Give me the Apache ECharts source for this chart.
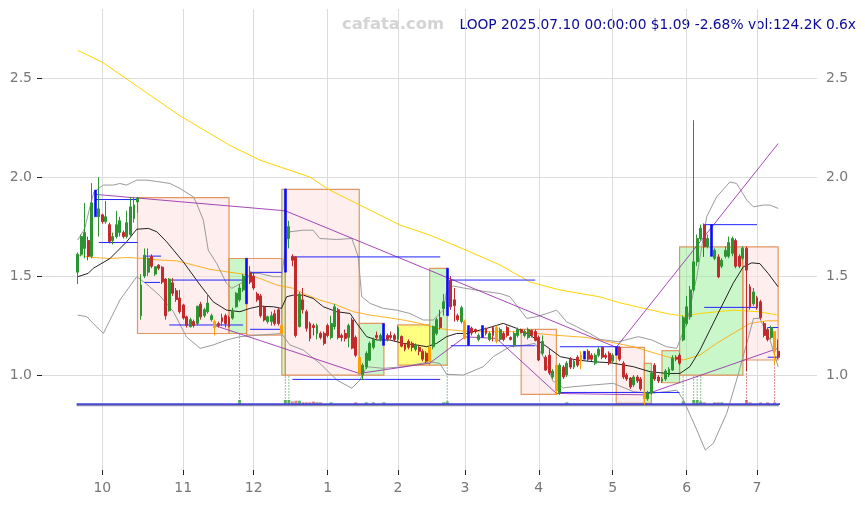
<!DOCTYPE html>
<html><head><meta charset="utf-8">
<script src="https://cdn.jsdelivr.net/npm/echarts@6/dist/echarts.min.js"></script>
<style>html,body{margin:0;padding:0;background:#fff}#c{width:865px;height:505px}</style>
</head><body><div id="c"></div>
<script>
// ---------- categories: trading days ----------
const holidays = ['2024-11-28','2024-12-25','2025-01-01','2025-01-09','2025-01-20','2025-02-17','2025-04-18','2025-05-26','2025-06-19','2025-07-04'];
const firstDay = '2024-09-20', lastDay = '2025-07-10';
const dates = [];
(function(){
  let d = Date.parse(firstDay + 'T00:00:00Z'); const e = Date.parse(lastDay + 'T00:00:00Z');
  while (d <= e) { const dt = new Date(d); const wd = dt.getUTCDay(); const s = dt.toISOString().slice(0,10);
    if (wd !== 0 && wd !== 6 && holidays.indexOf(s) < 0) dates.push(s); d += 86400000; }
})();

// ---------- OHLC: [open, close, low, high] ----------
const ohlc = [
[1.52,1.61,1.46,1.62],[1.61,1.70,1.60,1.71],[1.64,1.72,1.59,1.87],[1.68,1.60,1.58,1.70],[1.60,1.87,1.59,1.97],
[1.80,1.935,1.80,1.935],[1.80,1.84,1.70,2.00],[1.81,1.775,1.765,1.815],[1.775,1.80,1.765,1.88],[1.76,1.675,1.665,1.77],
[1.68,1.70,1.66,1.72],[1.70,1.76,1.69,1.83],[1.72,1.78,1.70,1.80],[1.72,1.70,1.69,1.73],[1.70,1.77,1.69,1.83],
[1.71,1.85,1.70,1.90],[1.79,1.86,1.77,1.90],[1.875,1.895,1.82,1.90],[1.30,1.455,1.28,1.51],[1.50,1.606,1.49,1.64],
[1.52,1.59,1.50,1.64],[1.60,1.55,1.54,1.61],[1.51,1.547,1.50,1.55],[1.555,1.54,1.53,1.56],[1.545,1.47,1.46,1.55],
[1.485,1.30,1.28,1.49],[1.325,1.485,1.32,1.49],[1.466,1.413,1.40,1.49],[1.426,1.382,1.37,1.44],[1.389,1.32,1.31,1.43],
[1.354,1.288,1.28,1.36],[1.294,1.25,1.24,1.30],[1.244,1.28,1.24,1.29],[1.27,1.25,1.24,1.28],[1.261,1.348,1.25,1.35],
[1.358,1.294,1.28,1.37],[1.30,1.33,1.29,1.34],[1.32,1.364,1.31,1.41],[1.28,1.30,1.27,1.31],[1.27,1.24,1.20,1.28],
[1.26,1.25,1.24,1.27],[1.29,1.27,1.25,1.31],[1.30,1.26,1.24,1.31],[1.29,1.245,1.24,1.30],[1.288,1.328,1.28,1.34],
[1.345,1.413,1.34,1.42],[1.38,1.44,1.37,1.46],[1.43,1.50,1.42,1.51],[1.36,1.59,1.36,1.59],[1.52,1.47,1.46,1.55],
[1.50,1.44,1.43,1.52],[1.41,1.38,1.37,1.42],[1.40,1.30,1.29,1.41],[1.345,1.278,1.27,1.35],[1.27,1.295,1.26,1.30],
[1.27,1.30,1.25,1.32],[1.31,1.26,1.25,1.33],[1.33,1.26,1.25,1.34],[1.25,1.21,1.20,1.26],[1.52,1.94,1.52,1.94],
[1.69,1.75,1.64,1.78],[1.60,1.58,1.55,1.61],[1.597,1.20,1.19,1.60],[1.245,1.41,1.24,1.42],[1.38,1.33,1.31,1.44],
[1.32,1.236,1.22,1.33],[1.26,1.185,1.17,1.27],[1.25,1.24,1.20,1.26],[1.21,1.25,1.18,1.26],[1.21,1.19,1.18,1.22],
[1.21,1.16,1.15,1.22],[1.25,1.20,1.19,1.26],[1.19,1.26,1.18,1.30],[1.244,1.345,1.23,1.36],[1.33,1.19,1.18,1.34],
[1.20,1.19,1.17,1.21],[1.21,1.185,1.17,1.23],[1.19,1.25,1.14,1.26],[1.278,1.136,1.13,1.29],[1.19,1.10,1.09,1.20],
[1.09,1.01,1.00,1.10],[1.00,1.05,0.975,1.06],[1.04,1.11,1.03,1.12],[1.075,1.16,1.07,1.17],[1.14,1.18,1.13,1.19],
[1.20,1.19,1.18,1.22],[1.18,1.20,1.17,1.21],[1.15,1.26,1.15,1.26],[1.20,1.18,1.17,1.21],[1.20,1.19,1.18,1.22],
[1.20,1.18,1.17,1.21],[1.18,1.24,1.17,1.25],[1.195,1.146,1.14,1.20],[1.155,1.13,1.12,1.16],[1.17,1.14,1.13,1.18],
[1.16,1.14,1.12,1.17],[1.13,1.15,1.12,1.16],[1.14,1.12,1.10,1.15],[1.12,1.08,1.07,1.13],[1.11,1.07,1.06,1.12],
[1.07,1.14,1.06,1.15],[1.143,1.245,1.13,1.25],[1.21,1.28,1.20,1.29],[1.29,1.24,1.23,1.33],[1.336,1.37,1.30,1.41],
[1.30,1.54,1.30,1.54],[1.48,1.345,1.33,1.50],[1.38,1.35,1.27,1.44],[1.30,1.28,1.27,1.31],[1.27,1.34,1.26,1.35],
[1.27,1.185,1.18,1.28],[1.15,1.25,1.15,1.25],[1.237,1.212,1.20,1.245],[1.23,1.22,1.21,1.235],[1.18,1.20,1.17,1.21],
[1.19,1.25,1.19,1.25],[1.235,1.21,1.20,1.24],[1.18,1.21,1.17,1.22],[1.24,1.20,1.17,1.245],[1.24,1.17,1.16,1.25],
[1.18,1.23,1.17,1.24],[1.21,1.18,1.17,1.22],[1.24,1.20,1.19,1.25],[1.19,1.18,1.175,1.195],[1.15,1.21,1.14,1.22],
[1.20,1.23,1.19,1.24],[1.23,1.215,1.21,1.235],[1.20,1.22,1.19,1.23],[1.19,1.23,1.18,1.24],[1.225,1.20,1.19,1.23],
[1.22,1.175,1.17,1.23],[1.19,1.076,1.07,1.20],[1.11,1.17,1.10,1.20],[1.09,1.025,1.02,1.10],[1.10,1.01,1.00,1.13],
[0.99,1.02,0.98,1.03],[1.05,0.92,0.90,1.05],[0.91,1.05,0.90,1.06],[1.04,0.99,0.98,1.05],[1.00,1.06,0.99,1.07],
[1.08,1.04,1.03,1.09],[1.04,1.07,1.03,1.08],[1.09,1.05,1.04,1.10],[1.10,1.07,1.03,1.12],[1.08,1.12,1.08,1.12],
[1.12,1.08,1.07,1.13],[1.10,1.08,1.07,1.11],[1.06,1.10,1.05,1.11],[1.10,1.13,1.09,1.14],[1.14,1.09,1.08,1.145],
[1.10,1.09,1.08,1.11],[1.11,1.06,1.05,1.12],[1.07,1.10,1.06,1.11],[1.10,1.14,1.10,1.14],[1.14,1.08,1.07,1.145],
[1.06,0.99,0.98,1.07],[1.00,0.98,0.97,1.01],[0.985,0.94,0.93,0.99],[0.95,0.99,0.94,1.00],[0.99,0.97,0.96,1.00],
[0.98,0.93,0.92,0.99],[0.91,0.88,0.85,0.92],[0.88,0.91,0.87,0.92],[0.91,1.01,0.90,1.02],[1.05,0.98,0.97,1.06],
[0.99,0.97,0.96,1.00],[0.97,0.98,0.96,0.99],[0.98,1.02,0.97,1.03],[1.00,1.03,0.99,1.04],[1.025,1.086,1.02,1.10],
[1.09,1.08,1.07,1.10],[1.10,1.06,1.05,1.11],[1.177,1.29,1.17,1.30],[1.26,1.345,1.25,1.40],[1.294,1.43,1.28,1.45],
[1.43,1.572,1.42,2.288],[1.572,1.69,1.55,1.71],[1.69,1.742,1.68,1.76],[1.758,1.648,1.597,1.766],[1.648,1.69,1.64,1.71],
[1.60,1.76,1.60,1.76],[1.59,1.63,1.58,1.64],[1.597,1.496,1.49,1.61],[1.55,1.58,1.54,1.59],[1.60,1.63,1.59,1.65],
[1.60,1.67,1.59,1.70],[1.615,1.69,1.60,1.70],[1.68,1.55,1.54,1.69],[1.60,1.55,1.54,1.61],[1.59,1.64,1.58,1.65],
[1.64,1.53,1.02,1.65],[1.446,1.345,1.33,1.46],[1.36,1.42,1.35,1.44],[1.39,1.34,1.33,1.40],[1.37,1.29,1.28,1.38],
[1.26,1.20,1.19,1.27],[1.23,1.18,1.17,1.24],[1.19,1.24,1.18,1.25],[1.22,1.12,1.05,1.22],[1.12,1.09,1.08,1.18]
];
const blueIdx = [5,48,59,87,105,111,115,144,153,180];
const orangeIdx = [39,58,80,100,110,119,136,143,161,198];

// ---------- indicator lines: [tradingDayIndex, price] ----------
const maBlack = [[0,1.497],[3,1.514],[4.4,1.539],[9.2,1.589],[13.9,1.673],[16.8,1.737],[20.1,1.741],[22.5,1.724],[25.3,1.673],[30,1.572],[34.8,1.455],[38.5,1.37],[42.3,1.328],[46.1,1.32],[49,1.337],[51.8,1.348],[55.6,1.345],[57.9,1.337],[59.4,1.396],[61.3,1.404],[64.1,1.404],[66.9,1.387],[69.8,1.345],[73.6,1.32],[77.4,1.311],[79.3,1.261],[82.1,1.194],[85,1.177],[88.7,1.177],[92.5,1.16],[96.3,1.152],[99.2,1.143],[102,1.16],[104.8,1.194],[107.7,1.21],[110.5,1.21],[116.2,1.236],[120.9,1.261],[124.7,1.236],[128.5,1.202],[133.3,1.143],[137.1,1.093],[141.8,1.076],[146.6,1.067],[151.4,1.062],[157.9,1.042],[162.6,1.017],[167.3,1.008],[171.1,1.008],[173.9,1.042],[176.8,1.126],[179.6,1.227],[182.4,1.328],[186.2,1.463],[189.1,1.547],[191.5,1.567],[193.8,1.563],[196.2,1.513],[199,1.446]];
const bbUpper = [[0,1.682],[2,1.74],[3.5,1.85],[4.6,1.925],[7.3,1.96],[10.1,1.96],[12,1.968],[13.9,1.96],[16.8,1.985],[19.6,1.985],[23.4,1.976],[26.2,1.968],[29.1,1.943],[32.9,1.90],[33.8,1.867],[35.7,1.783],[37.1,1.631],[39.5,1.564],[42.3,1.463],[43.8,1.438],[47.1,1.471],[49.4,1.513],[51.8,1.513],[55.6,1.497],[57.9,1.497],[59.4,1.682],[60.3,1.724],[64.1,1.732],[66.9,1.732],[68.8,1.69],[73.6,1.685],[77.9,1.69],[79.7,1.598],[80.7,1.396],[83.1,1.362],[86.8,1.337],[90.6,1.328],[94.4,1.311],[98.2,1.278],[101,1.278],[103.9,1.328],[104.8,1.421],[106.7,1.45],[109.6,1.44],[116.2,1.421],[120,1.412],[122.8,1.396],[127.6,1.286],[130.4,1.295],[133.3,1.311],[136.1,1.328],[138.9,1.269],[141.8,1.244],[145.5,1.21],[148.4,1.18],[153.6,1.168],[159.3,1.194],[163.1,1.177],[167.3,1.143],[170.2,1.135],[173,1.261],[175.9,1.497],[178.7,1.80],[181.5,1.90],[185.3,1.976],[187.2,1.968],[190.1,1.884],[192,1.85],[194.8,1.859],[196.7,1.859],[199,1.842]];
const bbLower = [[0,1.303],[2.6,1.295],[4.4,1.261],[7.3,1.21],[12,1.379],[16.8,1.497],[19.6,1.46],[23.4,1.40],[27.2,1.32],[30.9,1.193],[34.8,1.135],[38.5,1.152],[42.3,1.177],[46.1,1.194],[51.8,1.202],[57.9,1.21],[60.3,1.152],[64.1,1.126],[68.8,1.059],[73.6,0.975],[77.9,0.933],[80.2,0.975],[82.1,1.042],[86.8,1.034],[92.5,1.042],[100.1,1.067],[102.9,1.059],[104.8,1.004],[109.6,1.0],[115.2,1.042],[118.1,1.093],[122.8,1.143],[127.6,1.152],[129.9,1.16],[132.3,1.093],[135,0.97],[138,0.935],[140.8,0.941],[146.5,0.95],[152.2,0.958],[157.9,0.916],[162.6,0.907],[167.3,0.916],[170.2,0.924],[172.1,0.874],[175.9,0.722],[178.3,0.621],[180.6,0.655],[184.4,0.807],[187.2,0.975],[190.1,1.16],[192,1.286],[193.8,1.286],[196.7,1.177],[199,1.042]];
const maOrange = [[0,1.606],[4.4,1.594],[9.2,1.589],[13.9,1.594],[18.7,1.589],[23.4,1.581],[28.1,1.577],[32.9,1.556],[37.6,1.534],[42.3,1.522],[47.1,1.51],[51.8,1.488],[56.5,1.455],[61.3,1.438],[64.1,1.412],[68.8,1.379],[73.6,1.354],[78.3,1.32],[83.1,1.303],[87.8,1.291],[92.5,1.278],[97.3,1.261],[102,1.236],[106.7,1.227],[111.5,1.219],[125.7,1.219],[135.1,1.202],[144.6,1.19],[148.4,1.177],[157.9,1.143],[167.3,1.093],[172.1,1.076],[176.8,1.101],[181.5,1.16],[186.2,1.21],[191,1.261],[195.7,1.274],[199,1.274]];
const maYellow = [[0,2.641],[6.9,2.582],[12,2.52],[20.6,2.414],[29.1,2.31],[43.3,2.16],[51.8,2.086],[60.3,2.035],[66,2.0],[71.7,1.934],[80.2,1.859],[91.6,1.758],[100.1,1.707],[110.5,1.63],[120,1.556],[128.5,1.47],[137,1.43],[148.4,1.395],[154,1.365],[167.3,1.311],[172.1,1.298],[176.8,1.311],[186.2,1.328],[193.3,1.32],[199,1.303]];
const trendHigh = [[5,1.913],[59,1.83],[153,1.14],[199,2.17]];
const trendLow = [[39,1.25],[80,1.008],[100,1.06],[110,1.193],[119,1.185],[136,0.907],[161,0.90],[199,1.135]];

// ---------- boxes ----------
const boxStart = [17,43,48,58,59,80,91,100,126,153,161,166,171,189];
const boxEnd   = [43,48,58,59,80,87,100,105,136,161,163,171,189,199];
const boxLow   = [1.21,1.21,1.202,1.0,1.0,1.0,1.05,1.05,0.902,0.857,0.857,0.961,1.0,1.076];
const boxHigh  = [1.897,1.589,1.589,1.938,1.938,1.261,1.253,1.539,1.231,1.14,1.059,1.123,1.648,1.648];
const boxKind  = ['down','up','down','up','down','up','flat','up','down','down','up','up','up','down'];

// ---------- blue level segments ----------
const levelStart = [5,6,19,19,26,26,49,49,61,61,106,106,137,137,178,178,196,196];
const levelEnd   = [17,17,23.7,23.4,47,47,58,58,103,103,130,130,154,171,193,193,199,199];
const levelPrice = [1.887,1.67,1.601,1.468,1.48,1.253,1.519,1.231,1.597,0.978,1.48,1.148,1.143,0.912,1.76,1.342,1.24,1.09];

// ---------- volume markers ----------
const volBase = 0.85;
const volIdx = [46,59,60,61,62,63,64,65,66,67,68,69,72,79,82,84,87,104,105,139,172,175,176,177,178,181,182,183,190,191,194,196,198];
const volVal = [3,3,3,2,2.5,2.5,1.5,1.5,1.5,2,1.5,1.5,1.5,1.5,1.5,1.5,1.5,1.5,2,1.5,2,3,3,2,1.5,1.5,1.5,1.5,3,1.5,1.5,1.5,1.5];
const flagIdx = [46,59,60,105,172,175,176,177,190,198];
const flagTop = [1.21,1.0,1.0,1.05,1.0,1.0,1.0,1.0,1.02,1.05];

const yTicks = [1.0,1.5,2.0,2.5];
const titleText = 'LOOP 2025.07.10 00:00:00 $1.09 -2.68% vol:124.2K 0.6x';

// ---------- build ----------
const UP = '#2b9631', DOWN = '#c22a2c', BLUE = '#0a0aff', ORANGE = '#ffa000';
const isUp = i => ohlc[i][1] >= ohlc[i][0];
const candleData = ohlc.map((v, i) => {
  if (blueIdx.indexOf(i) >= 0) return {value: v, itemStyle: {color: BLUE, color0: BLUE, borderColor: BLUE, borderColor0: BLUE, borderWidth: 0.6}};
  if (orangeIdx.indexOf(i) >= 0) return {value: v, itemStyle: {color: ORANGE, color0: ORANGE, borderColor: ORANGE, borderColor0: ORANGE}};
  return v;
});
const monthStart = new Set();
for (let i = 1; i < dates.length; i++) if (dates[i].slice(5,7) !== dates[i-1].slice(5,7)) monthStart.add(i);
const isMonth = (idx) => monthStart.has(idx);

const boxFill = {down: 'rgba(253,226,226,0.6)', up: 'rgba(150,240,150,0.5)', flat: 'rgba(255,255,60,0.65)'};
const boxData = boxStart.map((s, i) => [s, boxEnd[i], boxLow[i], boxHigh[i], i]);
const levelData = levelStart.map((s, i) => [s, levelEnd[i], levelPrice[i]]);
const volData = volIdx.map((d, i) => [d, volVal[i]]);
const flagData = flagIdx.map((d, i) => [d, flagTop[i]]);
const maxVol = Math.max.apply(null, volVal);

const lineSeries = (name, data, color, width, z) => ({
  type: 'line', name, data, xAxisIndex: 2, yAxisIndex: 2, showSymbol: false, symbol: 'none',
  lineStyle: {color, width}, z, silent: true, clip: false, animation: false
});

const chart = echarts.init(document.getElementById('c'));
chart.setOption({
  animation: false,
  backgroundColor: '#ffffff',
  textStyle: {fontFamily: 'DejaVu Sans'},
  graphic: [
    {type: 'text', left: 342, top: 17, style: {text: 'cafata.com', font: 'bold 16.4px "DejaVu Sans"', fill: '#d4d4d4'}},
    {type: 'text', right: 9, top: 18, style: {text: titleText, font: '13.8px "DejaVu Sans"', fill: '#0a0a96'}}
  ],
  grid: [
    {left: 42, right: 48, top: 9, bottom: 35, outerBoundsMode: 'none'},
    {left: 77.66, right: 86.86, top: 9, bottom: 35, outerBoundsMode: 'none'}
  ],
  xAxis: [
    {type: 'value', gridIndex: 0, min: 0, max: 1, show: false},
    {type: 'category', gridIndex: 1, data: dates, boundaryGap: false,
      axisLine: {show: false},
      axisTick: {show: true, interval: isMonth, length: 5, lineStyle: {color: '#222'}},
      axisLabel: {interval: isMonth, formatter: v => String(parseInt(v.slice(5,7), 10)), color: '#777', fontSize: 14, fontFamily: 'DejaVu Sans', margin: 11},
      splitLine: {show: true, interval: isMonth, lineStyle: {color: '#dcdcdc', width: 1}}
    },
    {type: 'value', gridIndex: 1, min: 0, max: dates.length - 1, show: false}
  ],
  yAxis: [
    {type: 'value', gridIndex: 0, position: 'left', min: 0.52, max: 2.85, scale: true,
      axisLine: {show: false},
      axisTick: {show: true, customValues: yTicks, length: 5, lineStyle: {color: '#222'}},
      axisLabel: {customValues: yTicks, formatter: v => v.toFixed(1), color: '#777', fontSize: 14, fontFamily: 'DejaVu Sans', margin: 10},
      splitLine: {show: true, lineStyle: {color: '#dcdcdc', width: 1}}
    },
    {type: 'value', gridIndex: 0, position: 'right', min: 0.52, max: 2.85, scale: true,
      axisLine: {show: false}, axisTick: {show: false},
      axisLabel: {customValues: yTicks, formatter: v => v.toFixed(1), color: '#777', fontSize: 14, fontFamily: 'DejaVu Sans', margin: 9},
      splitLine: {show: false}
    },
    {type: 'value', gridIndex: 1, min: 0.52, max: 2.85, scale: true, show: false, splitLine: {show: false}}
  ],
  series: [
    {type: 'custom', name: 'boxes', xAxisIndex: 2, yAxisIndex: 2, z: 1, silent: true, data: boxData,
      renderItem: (p, api) => {
        const a = api.coord([api.value(0), api.value(3)]);
        const b = api.coord([api.value(1), api.value(2)]);
        const k = boxKind[api.value(4)];
        return {type: 'rect', shape: {x: a[0], y: a[1], width: b[0] - a[0], height: b[1] - a[1]},
          style: {fill: boxFill[k], stroke: 'rgba(222,135,70,0.85)', lineWidth: 1.2}};
      }},
    lineSeries('ma200', maYellow, '#ffd400', 1, 2),
    lineSeries('ma50', maOrange, 'rgba(255,165,0,0.85)', 1, 2),
    lineSeries('bbUpper', bbUpper, '#9a9a9a', 1, 2),
    lineSeries('bbLower', bbLower, '#9a9a9a', 1, 2),
    lineSeries('ma20', maBlack, '#222222', 1, 3),
    lineSeries('trendHigh', trendHigh, 'rgba(150,40,170,0.85)', 1, 3),
    lineSeries('trendLow', trendLow, 'rgba(150,40,170,0.85)', 1, 3),
    {type: 'custom', name: 'levels', xAxisIndex: 2, yAxisIndex: 2, z: 4, silent: true, data: levelData,
      renderItem: (p, api) => {
        const a = api.coord([api.value(0), api.value(2)]);
        const b = api.coord([api.value(1), api.value(2)]);
        return {type: 'line', shape: {x1: a[0], y1: a[1], x2: b[0], y2: b[1]}, style: {stroke: '#2424ff', lineWidth: 1}};
      }},
    {type: 'custom', name: 'flags', xAxisIndex: 2, yAxisIndex: 2, z: 3, silent: true, data: flagData,
      renderItem: (p, api) => {
        const i = api.value(0);
        const a = api.coord([i, volBase]);
        const b = api.coord([i, api.value(1)]);
        return {type: 'line', shape: {x1: a[0], y1: a[1], x2: b[0], y2: b[1]},
          style: {stroke: isUp(i) ? 'rgba(47,154,53,0.75)' : 'rgba(198,47,47,0.75)', lineWidth: 1, lineDash: [1.5, 1.5]}};
      }},
    {type: 'custom', name: 'volume', xAxisIndex: 2, yAxisIndex: 2, z: 4, silent: true, data: volData,
      renderItem: (p, api) => {
        const i = api.value(0);
        const a = api.coord([i - 0.42, volBase + api.value(1) / maxVol * 0.024]);
        const b = api.coord([i + 0.42, volBase]);
        return {type: 'rect', shape: {x: a[0], y: a[1], width: b[0] - a[0], height: b[1] - a[1]},
          style: {fill: isUp(i) ? 'rgba(47,154,53,0.75)' : 'rgba(198,47,47,0.6)'}};
      }},
    lineSeries('volBaseGrey', [[-0.3, volBase - 0.004], [200, volBase - 0.004]], '#8a8aa8', 1.4, 5),
    lineSeries('volBase', [[-0.3, volBase + 0.003], [200, volBase + 0.003]], '#4646d8', 1.8, 5),
    {type: 'candlestick', name: 'LOOP', xAxisIndex: 1, yAxisIndex: 2, data: candleData, barWidth: 2.4, clip: false, z: 6,
      itemStyle: {color: UP, color0: DOWN, borderColor: UP, borderColor0: DOWN, borderWidth: 1}, silent: true}
  ]
});
</script></body></html>
